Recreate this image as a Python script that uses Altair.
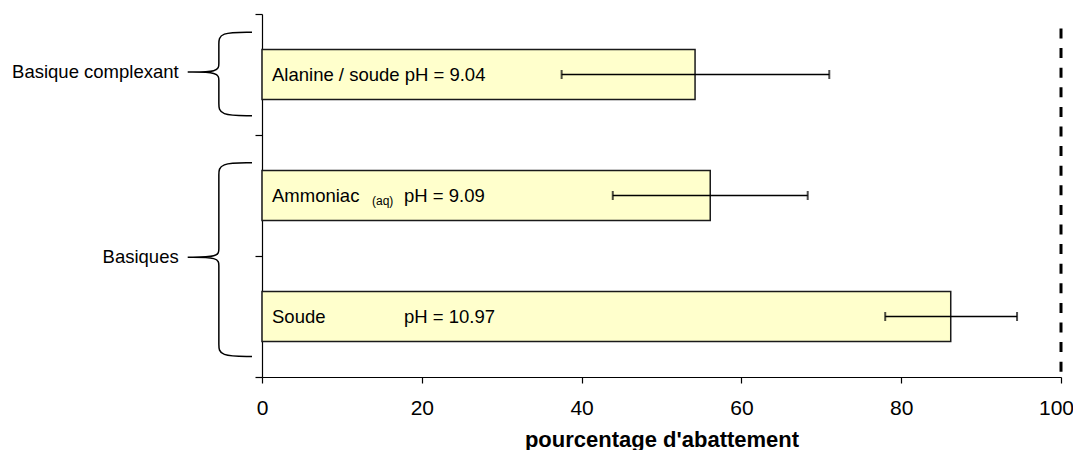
import altair as alt
import pandas as pd

# ---- data ----
categories = ["Alanine / soude", "Ammoniac", "Soude"]
row_positions = [2.5, 1.5, 0.5]          # row centres on the (hidden) y axis, top to bottom
values = [54.2, 56.1, 86.2]
err_low = [37.5, 43.9, 78.0]
err_high = [71.0, 68.3, 94.5]
subscripts = ["", "(aq)", ""]
ph_labels = ["pH = 9.04", "pH = 9.09", "pH = 10.97"]
ph_inline = [True, False, False]         # pH written right after the name (vs. in its own column)

group_names = ["Basique complexant", "Basiques"]
group_top = [2.85, 1.77]
group_mid = [2.52, 0.99]
group_bottom = [2.16, 0.17]

x_ticks = [0, 20, 40, 60, 80, 100]
y_ticks = [0, 1, 2, 3]
reference_value = [100]
x_title = "pourcentage d'abattement"

FONT = "Liberation Sans"

bars = pd.DataFrame({
    "name": categories, "pos": row_positions, "value": values,
    "lo": err_low, "hi": err_high, "sub": subscripts, "ph": ph_labels, "inline": ph_inline,
})

# brace control polygons (basis-interpolated), built from the group extents
ARM_X, STEM_X, TIP_X = -1.25, -5.4, -9.3
R, RT = 0.1, 0.07
rows = []
for g, t, m, b in zip(group_names, group_top, group_mid, group_bottom):
    pts = ([(ARM_X, t)] * 3 + [(STEM_X, t), (STEM_X, t - R), (STEM_X, t - 2 * R),
           (STEM_X, m + 2 * RT), (STEM_X, m + RT), (STEM_X, m)] + [(TIP_X, m)] * 3 +
           [(STEM_X, m), (STEM_X, m - RT), (STEM_X, m - 2 * RT),
            (STEM_X, b + 2 * R), (STEM_X, b + R), (STEM_X, b)] + [(ARM_X, b)] * 3)
    for i, (px, py) in enumerate(pts):
        rows.append({"group": g, "i": i, "bx": px, "by": py})
braces = pd.DataFrame(rows)
groups = pd.DataFrame({"group": group_names, "mid": group_mid, "tipx": [TIP_X] * len(group_names)})
ref = pd.DataFrame({"x": reference_value})

xscale = alt.Scale(domain=[0, 100], nice=False, zero=False)
yscale = alt.Scale(domain=[0, 3], nice=False, zero=False)


def xenc(field):
    return alt.X(field, type="quantitative", scale=xscale, title=x_title,
                 axis=alt.Axis(values=x_ticks, grid=False, tickSize=6, labelPadding=14,
                               titlePadding=11, labelFlush=False,
                               labelOffset={"expr": "datum.value === 100 ? -5 : 0"}))


def yenc(field):
    return alt.Y(field, type="quantitative", scale=yscale, title=None,
                 axis=alt.Axis(values=y_ticks, labels=False, grid=False, tickSize=7))


base = alt.Chart(bars)

bar_layer = base.transform_calculate(
    y0="datum.pos - 0.207", y1="datum.pos + 0.207", zero="0"
).mark_bar(fill="#FFFFCC", stroke="#1a1a1a", strokeWidth=1.5).encode(
    x=xenc("zero"), x2="value:Q", y=yenc("y0"), y2="y1:Q"
)

err_line = base.mark_rule(color="black", strokeWidth=1.5).encode(
    x=xenc("lo"), x2="hi:Q", y=yenc("pos")
)

err_caps = base.transform_fold(["lo", "hi"], as_=["end", "xv"]).mark_tick(
    orient="vertical", size=9, thickness=2, color="black"
).encode(x=xenc("xv"), y=yenc("pos"))

ref_line = alt.Chart(ref).mark_rule(color="black", strokeWidth=3, strokeDash=[10, 9.6]).encode(
    x=xenc("x"), y=alt.datum(2.88), y2=alt.datum(0)
)

name_text = base.transform_calculate(
    label="datum.inline ? datum.name + ' ' + datum.ph : datum.name"
).mark_text(align="left", baseline="middle", fontSize=18.5, font=FONT,
            color="black").encode(x=alt.value(10), y=yenc("pos"), text="label:N")
sub_text = base.mark_text(align="left", baseline="middle", fontSize=12, font=FONT,
                          color="black", dy=5).encode(x=alt.value(110), y=yenc("pos"), text="sub:N")
ph_text = base.transform_filter("!datum.inline").mark_text(
    align="left", baseline="middle", fontSize=18.5, font=FONT, color="black"
).encode(x=alt.value(142), y=yenc("pos"), text="ph:N")

brace_layer = alt.Chart(braces).mark_line(interpolate="basis", color="black", strokeWidth=1.5).encode(
    x=xenc("bx"), y=yenc("by"), detail="group:N", order="i:Q"
)
group_text = alt.Chart(groups).mark_text(align="right", baseline="middle", fontSize=18.5, font=FONT,
                                         color="black", dx=-9).encode(
    x=xenc("tipx"), y=yenc("mid"), text="group:N"
)

chart = alt.layer(
    bar_layer, err_line, err_caps, ref_line, name_text, sub_text, ph_text, brace_layer, group_text
).properties(
    width=799, height=363,
    autosize=alt.AutoSizeParams(type="none"),
    padding={"left": 254, "top": 6, "right": 12, "bottom": 85},
).configure_view(stroke=None).configure_axis(
    domainColor="black", tickColor="black", labelColor="black", titleColor="black",
    labelFont=FONT, titleFont=FONT, labelFontSize=21, titleFontSize=22, titleFontWeight="bold",
    domainWidth=1.2, tickWidth=1.2
)

chart.save("out.html", embed_options={"renderer": "svg", "actions": False})
